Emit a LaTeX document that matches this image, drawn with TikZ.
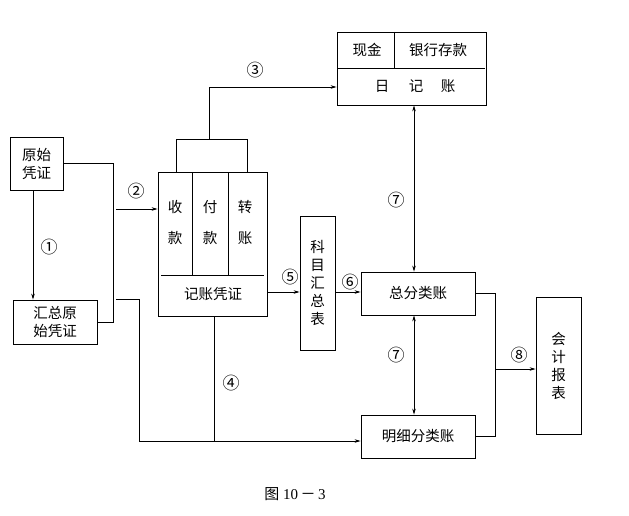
\documentclass[tikz,border=0pt]{standalone}
\usepackage{fontspec}
\setmainfont{Liberation Serif}
\newfontfamily\cjk{Noto Sans CJK SC}
\usetikzlibrary{arrows.meta}
\tikzset{
 box/.style={draw, line width=0.8pt, inner sep=0pt, align=center, font=\cjk\fontsize{14.5}{18}\selectfont},
 vbox/.style={box, font=\cjk\fontsize{14.5}{18}\selectfont},
 conn/.style={line width=0.8pt},
 arr/.style={conn, -{Stealth[length=6pt,width=3.5pt]}},
 darr/.style={conn, {Stealth[length=6pt,width=3.5pt]}-{Stealth[length=6pt,width=3.5pt]}},
 lbl/.style={font=\cjk\fontsize{17}{17}\selectfont, inner sep=0pt},
 txt/.style={font=\cjk\fontsize{14.5}{16}\selectfont, inner sep=0pt}
}
\begin{document}
\begin{tikzpicture}[x=1pt,y=-1pt]
\useasboundingbox (0,0) rectangle (629,516);
% boxes
\node[box, minimum width=53pt, minimum height=53pt] (ys) at (36.5,163.5) {原始\\凭证};
\node[box, minimum width=84pt, minimum height=44pt] (hz) at (55,322) {汇总原\\始凭证};
\node[box, minimum width=109pt, minimum height=144pt] (jz) at (212.5,244) {};
\node[box, minimum width=149pt, minimum height=73pt] (rj) at (411.5,68.5) {};
\node[vbox, minimum width=35pt, minimum height=134pt] (km) at (317.5,283) {科\\目\\汇\\总\\表};
\node[box, minimum width=114pt, minimum height=43pt] (zf) at (418,293.5) {总分类账};
\node[box, minimum width=114pt, minimum height=43pt] (mx) at (418,436.5) {明细分类账};
\node[vbox, minimum width=45pt, minimum height=137pt] (kb) at (558.5,365.5) {会\\计\\报\\表};
% inner of jz
\draw[conn] (192,172) -- (192,275);
\draw[conn] (228,172) -- (228,275);
\draw[conn] (161,275) -- (264,275);
\node[txt] (t1) at (175,207) {收};
\node[txt] (t2) at (175,238) {款};
\node[txt] (t3) at (210,207) {付};
\node[txt] (t4) at (210,238) {款};
\node[txt] (t5) at (245,207) {转};
\node[txt] (t6) at (245,238) {账};
\node[txt] (t7) at (213,294) {记账凭证};
% inner of rj
\draw[conn] (337,68) -- (485,68);
\draw[conn] (394,32) -- (394,68);
\node[txt] (r1) at (367,50) {现金};
\node[txt] (r2) at (438,50) {银行存款};
\node[txt] (r3) at (382,86) {日};
\node[txt] (r4) at (416,86) {记};
\node[txt] (r5) at (448,86) {账};
% coordinates
\coordinate (c1) at (33,0);
\coordinate (c2) at (116,209);
\coordinate (c2b) at (116,299);
\coordinate (c4) at (139,441);
\coordinate (c3) at (209,87);
\coordinate (c5) at (0,292);
\coordinate (c7) at (414,0);
\coordinate (c8) at (495,369);
% connectors
\draw[arr] (ys.south -| c1) -- (hz.north -| c1);
\draw[conn] (ys.east) -| (113,322) -- (hz.east);
\draw[arr] (c2) -- (jz.west |- c2);
\draw[arr] (c2b) -| (c4) -- (mx.west |- c4);
\draw[conn] (jz.south -| 214,0) -- (214,441);
\draw[conn] (jz.north -| 176,0) |- (247,139) -- (jz.north -| 247,0);
\draw[arr] (209,139) |- (rj.west |- c3);
\draw[arr] (jz.east |- c5) -- (km.west |- c5);
\draw[arr] (km.east |- c5) -- (zf.west |- c5);
\draw[darr] (rj.south -| c7) -- (zf.north -| c7);
\draw[darr] (zf.south -| c7) -- (mx.north -| c7);
\draw[conn] (zf.east) -| (495,436.5) -- (mx.east);
\draw[arr] (c8) -- (kb.west |- c8);
% labels
\node[lbl] (l1) at (49,247) {①};
\node[lbl] (l2) at (136,191) {②};
\node[lbl] (l3) at (255,70) {③};
\node[lbl] (l4) at (231,383) {④};
\node[lbl] (l5) at (290,277) {⑤};
\node[lbl] (l6) at (350,282) {⑥};
\node[lbl] (l7a) at (396,200) {⑦};
\node[lbl] (l7b) at (396,355) {⑦};
\node[lbl] (l8) at (519,355) {⑧};
\node[font=\fontsize{15}{17}\selectfont, inner sep=0pt] (cap) at (295,494) {{\cjk 图} 10\,{\cjk －}\,3};
\end{tikzpicture}
\end{document}
